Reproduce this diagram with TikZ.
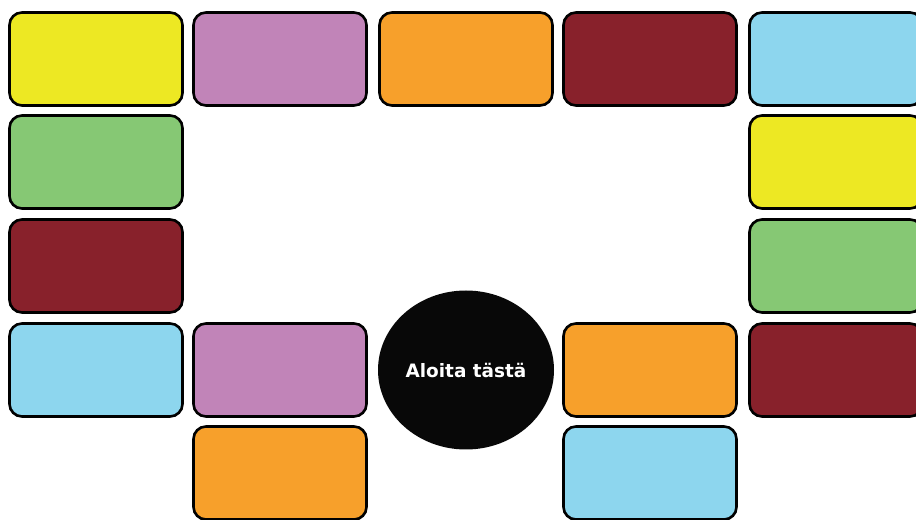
\documentclass[tikz,border=0pt]{standalone}
\usepackage{fontspec}
\setsansfont{DejaVu Sans}
\usetikzlibrary{shapes.geometric}
\definecolor{sqyellow}{RGB}{237,232,35}
\definecolor{sqpurple}{RGB}{193,132,184}
\definecolor{sqorange}{RGB}{247,160,43}
\definecolor{sqwine}{RGB}{136,33,43}
\definecolor{sqblue}{RGB}{141,214,238}
\definecolor{sqgreen}{RGB}{134,200,116}

\begin{document}
\begin{tikzpicture}[font=\sffamily,
  square/.style={draw=black,line width=1.5pt,rounded corners=0.25cm,minimum width=3.46cm,minimum height=1.86cm,inner sep=0pt}]
  \useasboundingbox (0,0) rectangle (18.32,-10.4);
  \clip (0,0) rectangle (18.32,-10.4);
  % top row
  \node[square,fill=sqyellow] (a1) at (1.92,-1.18) {};
  \node[square,fill=sqpurple] (a2) at (5.6,-1.18) {};
  \node[square,fill=sqorange] (a3) at (9.32,-1.18) {};
  \node[square,fill=sqwine] (a4) at (13.0,-1.18) {};
  \node[square,fill=sqblue] (a5) at (16.72,-1.18) {};
  % left side
  \node[square,fill=sqgreen] (b1) at (1.92,-3.24) {};
  \node[square,fill=sqwine] (c1) at (1.92,-5.32) {};
  \node[square,fill=sqblue] (d1) at (1.92,-7.4) {};
  \node[square,fill=sqpurple] (d2) at (5.6,-7.4) {};
  \node[square,fill=sqorange] (e2) at (5.6,-9.46) {};
  % right side
  \node[square,fill=sqyellow] (b5) at (16.72,-3.24) {};
  \node[square,fill=sqgreen] (c5) at (16.72,-5.32) {};
  \node[square,fill=sqwine] (d5) at (16.72,-7.4) {};
  \node[square,fill=sqorange] (d4) at (13.0,-7.4) {};
  \node[square,fill=sqblue] (e4) at (13.0,-9.46) {};
  % start
  \node[ellipse,fill=black!97,inner sep=0pt,minimum width=3.52cm,minimum height=3.18cm,text=white,font=\sffamily\bfseries\fontsize{10.5}{12}\selectfont] (start) at (9.32,-7.4) {Aloita tästä};
\end{tikzpicture}
\end{document}
